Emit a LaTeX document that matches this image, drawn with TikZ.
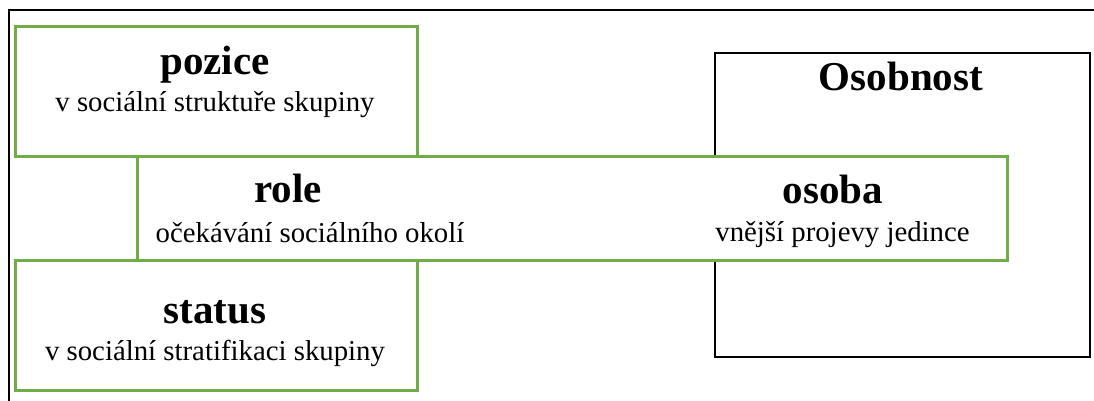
\documentclass[tikz,border=0pt]{standalone}
\usepackage{fontspec}
\setmainfont{Liberation Serif}
\definecolor{leafgreen}{RGB}{112,173,71}
\tikzset{
  frameline/.style={draw=black, line width=2.2pt},
  greenbox/.style={draw=leafgreen, line width=2.6pt, fill=white, rectangle, inner sep=0pt, anchor=north west},
  blackbox/.style={draw=black, line width=2.2pt, fill=white, rectangle, inner sep=0pt, anchor=north west},
  headtext/.style={anchor=base, inner sep=0pt, font=\bfseries\fontsize{41}{41}\selectfont},
  subtext/.style={anchor=base, inner sep=0pt, font=\fontsize{28.8}{29}\selectfont},
}
\begin{document}
\begin{tikzpicture}[x=1pt, y=-1pt]
  \useasboundingbox (0,0) rectangle (1094,401);
  % page frame: only its top and left edges fall inside the picture
  \coordinate (frameBL) at (9,405);
  \coordinate (frameTL) at (9,10);
  \coordinate (frameTR) at (1098,10);
  \draw[frameline] (frameBL) -- (frameTL) -- (frameTR);

  % personality box
  \node[blackbox, minimum width=375pt, minimum height=304pt] (osobnost) at (714,52) {};
  \node[headtext] (tosobnost) at (901,91) {Osobnost};

  % position and status boxes
  \node[greenbox, minimum width=402pt, minimum height=130pt] (pozice) at (14,25) {};
  \node[greenbox, minimum width=402pt, minimum height=130pt] (status) at (14,259) {};

  % role / person band across the middle
  \node[greenbox, minimum width=870pt, minimum height=104pt] (role) at (136,155) {};

  \node[headtext] (tpozice) at (215,75) {pozice};
  \node[subtext] (spozice) at (215,112) {v sociální struktuře skupiny};

  \node[headtext] (trole) at (288,202) {role};
  \node[subtext] (srole) at (310,242) {očekávání sociálního okolí};

  \node[headtext] (tosoba) at (833,203) {osoba};
  \node[subtext] (sosoba) at (842.5,241) {vnější projevy jedince};

  \node[headtext] (tstatus) at (215,323) {status};
  \node[subtext] (sstatus) at (215,360) {v sociální stratifikaci skupiny};
\end{tikzpicture}
\end{document}
